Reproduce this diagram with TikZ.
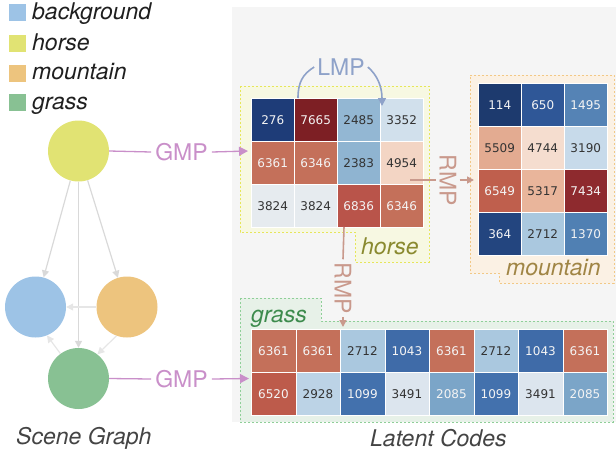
\documentclass[tikz,border=0pt]{standalone}
\usepackage{fontspec}
\setmainfont{TeX Gyre Heros}
\newfontfamily\numfont{DejaVu Sans}
\usetikzlibrary{arrows.meta}
\definecolor{cbg}{HTML}{9DC3E6}
\definecolor{chorse}{HTML}{E1E373}
\definecolor{cmount}{HTML}{EDC47E}
\definecolor{cgrass}{HTML}{88C193}
\definecolor{panel}{HTML}{F5F5F5}
\definecolor{gmpc}{HTML}{C98FC9}
\definecolor{lmpc}{HTML}{8EA2C9}
\definecolor{rmpc}{HTML}{C9998C}
\definecolor{grayarr}{HTML}{D9D9D9}
\definecolor{grayarrl}{HTML}{E6E6E6}
\definecolor{hfill}{HTML}{F7F8E2}
\definecolor{hline}{HTML}{E6E65A}
\definecolor{mfill}{HTML}{FBF1E4}
\definecolor{mline}{HTML}{F2C886}
\definecolor{gfill}{HTML}{E7F1E8}
\definecolor{gline}{HTML}{8FCF98}
\definecolor{htext}{HTML}{8A8A30}
\definecolor{mtext}{HTML}{A08545}
\definecolor{gtext}{HTML}{3D8B4D}
\definecolor{captext}{HTML}{444444}
\definecolor{lt}{HTML}{F4F4F4}
\definecolor{dk}{HTML}{333333}
% cell colours
\definecolor{cA}{HTML}{1E3C78}
\definecolor{cB}{HTML}{7D1F24}
\definecolor{cC}{HTML}{93B7D3}
\definecolor{cD}{HTML}{D1E0EC}
\definecolor{cE}{HTML}{C4705A}
\definecolor{cF}{HTML}{8FB4D1}
\definecolor{cG}{HTML}{F3D5C4}
\definecolor{cH}{HTML}{E6EBEF}
\definecolor{cI}{HTML}{B9544A}
\definecolor{cJ}{HTML}{1D3A6E}
\definecolor{cK}{HTML}{2F5797}
\definecolor{cL}{HTML}{5583B5}
\definecolor{cM}{HTML}{E3AB91}
\definecolor{cN}{HTML}{F5DDCF}
\definecolor{cO}{HTML}{C7DAEA}
\definecolor{cP}{HTML}{BF5F4D}
\definecolor{cQ}{HTML}{E9B59B}
\definecolor{cR}{HTML}{8E2A2E}
\definecolor{cS}{HTML}{23457F}
\definecolor{cT}{HTML}{AAC8DF}
\definecolor{cU}{HTML}{5080B3}
\definecolor{cV}{HTML}{3F6BA8}
\definecolor{cW}{HTML}{BD5B4B}
\definecolor{cX}{HTML}{BCD3E6}
\definecolor{cY}{HTML}{4371AD}
\definecolor{cZ}{HTML}{DCE5EE}
\definecolor{cAA}{HTML}{7BA5C8}
\newcommand\cel[8]{\node[cellbox, minimum width=#4pt, minimum height=#5pt, fill=#6, text=#7] (#1) at (#2,-#3) {#8};}
\tikzset{
  big/.style={font=\fontsize{23}{23}\selectfont},
  cellbox/.style={draw=white, line width=0.5pt, anchor=north west, inner sep=0pt,
    font=\numfont\fontsize{12}{12}\selectfont},
  legsq/.style={minimum size=17pt, inner sep=0pt},
  legtxt/.style={anchor=base west, inner sep=0pt, text=black!88, font=\fontsize{23}{23}\selectfont\itshape},
  sgnode/.style={circle, minimum size=61pt, inner sep=0pt},
  garrow/.style={draw=grayarr, line width=1.2pt, -{Triangle[length=7pt,width=7pt]}},
  garrowl/.style={draw=grayarrl, line width=1.2pt, -{Triangle[length=7pt,width=7pt]}},
  gmpline/.style={draw=gmpc, line width=1.3pt},
  gmparrow/.style={gmpline, -{Triangle[length=9pt,width=9pt]}},
  lmpline/.style={draw=lmpc, line width=1.6pt},
  rmpline/.style={draw=rmpc, line width=1.6pt},
  rmparrow/.style={rmpline, -{Triangle[length=7pt,width=7pt]}},
  grpbox/.style={line width=0.9pt, dash pattern=on 2pt off 2pt},
}
\begin{document}
\begin{tikzpicture}[x=1pt,y=1pt]
\useasboundingbox (0,0) rectangle (616,-456);
% panel
\fill[panel] (232,-7) rectangle (616,-422);
% legend
\node[legsq, fill=cbg] (lq1) at (17.5,-12.5) {};
\node[legsq, fill=chorse] (lq2) at (17.5,-43.5) {};
\node[legsq, fill=cmount] (lq3) at (17.5,-73) {};
\node[legsq, fill=cgrass] (lq4) at (17.5,-102.5) {};
\node[legtxt] (lt1) at (32,-19) {background};
\node[legtxt] (lt2) at (32,-50) {horse};
\node[legtxt] (lt3) at (32,-79.5) {mountain};
\node[legtxt] (lt4) at (32,-109) {grass};
% scene graph
\node[sgnode, fill=chorse] (horse) at (78.5,-151) {};
\node[sgnode, fill=cbg] (bg) at (35.5,-307) {};
\node[sgnode, fill=cmount] (mount) at (127,-307) {};
\node[sgnode, fill=cgrass] (grass) at (78.5,-378.5) {};
\draw[garrow] (horse) -- (bg);
\draw[garrow] (horse) -- (mount);
\draw[garrow] (horse) -- (grass);
\draw[garrowl] (mount.west) -- (bg.east);
\draw[garrowl] (mount.250) -- (grass.52);
\draw[garrowl] (grass.126) -- (bg.292);
\node[anchor=base west, inner sep=0pt, text=captext, font=\fontsize{23}{23}\selectfont\itshape] (sgcap) at (16,-444) {Scene Graph};
\node[anchor=base west, inner sep=0pt, text=captext, font=\fontsize{23}{23}\selectfont\itshape] (lccap) at (370,-446) {Latent Codes};
% group boxes
\draw[grpbox, draw=hline, fill=hfill] (240,-86) -- (429,-86) -- (429,-262) -- (355,-262) -- (355,-232) -- (240,-232) -- cycle;
\draw[grpbox, draw=mline, fill=mfill] (470,-75) -- (614,-75) -- (614,-283) -- (499,-283) -- (499,-273) -- (470,-273) -- cycle;
\draw[grpbox, draw=gline, fill=gfill] (240,-298) -- (321,-298) -- (321,-321) -- (613,-321) -- (613,-422) -- (240,-422) -- cycle;
% horse grid
\cel{h11}{251}{98}{43}{43}{cA}{lt}{276}
\cel{h12}{294}{98}{43}{43}{cB}{lt}{7665}
\cel{h13}{337}{98}{43}{43}{cC}{dk}{2485}
\cel{h14}{380}{98}{43}{43}{cD}{dk}{3352}
\cel{h21}{251}{141}{43}{43}{cE}{lt}{6361}
\cel{h22}{294}{141}{43}{43}{cE}{lt}{6346}
\cel{h23}{337}{141}{43}{43}{cF}{dk}{2383}
\cel{h24}{380}{141}{43}{43}{cG}{dk}{4954}
\cel{h31}{251}{184}{43}{43}{cH}{dk}{3824}
\cel{h32}{294}{184}{43}{43}{cH}{dk}{3824}
\cel{h33}{337}{184}{43}{43}{cI}{lt}{6836}
\cel{h34}{380}{184}{43}{43}{cE}{lt}{6346}
% mountain grid
\cel{m11}{478}{83}{43}{43}{cJ}{lt}{114}
\cel{m12}{521}{83}{43}{43}{cK}{lt}{650}
\cel{m13}{564}{83}{43}{43}{cL}{lt}{1495}
\cel{m21}{478}{126}{43}{43}{cM}{dk}{5509}
\cel{m22}{521}{126}{43}{43}{cN}{dk}{4744}
\cel{m23}{564}{126}{43}{43}{cO}{dk}{3190}
\cel{m31}{478}{169}{43}{43}{cP}{lt}{6549}
\cel{m32}{521}{169}{43}{43}{cQ}{dk}{5317}
\cel{m33}{564}{169}{43}{43}{cR}{lt}{7434}
\cel{m41}{478}{212}{43}{43}{cS}{lt}{364}
\cel{m42}{521}{212}{43}{43}{cT}{dk}{2712}
\cel{m43}{564}{212}{43}{43}{cU}{lt}{1370}
% grass grid
\cel{g11}{251}{329}{44.5}{43}{cE}{lt}{6361}
\cel{g12}{295.5}{329}{44.5}{43}{cE}{lt}{6361}
\cel{g13}{340}{329}{44.5}{43}{cT}{dk}{2712}
\cel{g14}{384.5}{329}{44.5}{43}{cV}{lt}{1043}
\cel{g15}{429}{329}{44.5}{43}{cE}{lt}{6361}
\cel{g16}{473.5}{329}{44.5}{43}{cT}{dk}{2712}
\cel{g17}{518}{329}{44.5}{43}{cV}{lt}{1043}
\cel{g18}{562.5}{329}{44.5}{43}{cE}{lt}{6361}
\cel{g21}{251}{372}{44.5}{43}{cW}{lt}{6520}
\cel{g22}{295.5}{372}{44.5}{43}{cX}{dk}{2928}
\cel{g23}{340}{372}{44.5}{43}{cY}{lt}{1099}
\cel{g24}{384.5}{372}{44.5}{43}{cZ}{dk}{3491}
\cel{g25}{429}{372}{44.5}{43}{cAA}{lt}{2085}
\cel{g26}{473.5}{372}{44.5}{43}{cY}{lt}{1099}
\cel{g27}{518}{372}{44.5}{43}{cZ}{dk}{3491}
\cel{g28}{562.5}{372}{44.5}{43}{cAA}{lt}{2085}
% group labels
\node[anchor=base west, inner sep=0pt, text=htext, font=\fontsize{23}{23}\selectfont\itshape] (hlab) at (361,-254) {horse};
\node[anchor=base west, inner sep=0pt, text=mtext, font=\fontsize{23}{23}\selectfont\itshape] (mlab) at (506,-275) {mountain};
\node[anchor=base west, inner sep=0pt, text=gtext, font=\fontsize{23}{23}\selectfont\itshape] (glab) at (251,-322) {grass};
% GMP
\node[big, text=gmpc, inner sep=4pt] (gmp1) at (181.5,-152) {GMP};
\node[big, text=gmpc, inner sep=4pt] (gmp2) at (181.5,-379) {GMP};
\coordinate (hin) at (248,-151);
\coordinate (gin) at (249,-378.5);
\draw[gmpline] (horse.east) -- (gmp1.west);
\draw[gmparrow] (gmp1.east) -- (hin);
\draw[gmpline] (grass.east) -- (gmp2.west);
\draw[gmparrow] (gmp2.east) -- (gin);
% LMP
\node[big, text=lmpc, inner sep=3pt] (lmp) at (341,-67) {LMP};
\coordinate (lmpA) at (298,-98);
\coordinate (lmpB) at (382,-106);
\draw[lmpline] (lmpA) .. controls (298,-82) and (303,-74) .. (lmp.west);
\draw[lmpline, -{Triangle[length=8pt,width=8pt]}] (lmp.east) .. controls (377,-75) and (382,-86) .. (lmpB);
% RMP horizontal
\node[big, text=rmpc, rotate=-90, inner sep=3pt] (rmp1) at (448,-180) {RMP};
\coordinate (rmpA) at (410,-180);
\coordinate (min) at (474,-180);
\draw[rmpline] (rmpA) -- (rmp1.south);
\draw[rmparrow] (rmp1.north) -- (min);
% RMP vertical
\node[big, text=rmpc, rotate=-90, inner sep=3pt] (rmp2) at (343,-288) {RMP};
\coordinate (rmpC) at (344,-227);
\coordinate (gin2) at (343,-327);
\draw[rmpline] (rmpC) -- (rmp2.west);
\draw[rmparrow] (rmp2.east) -- (gin2);
\end{tikzpicture}
\end{document}
